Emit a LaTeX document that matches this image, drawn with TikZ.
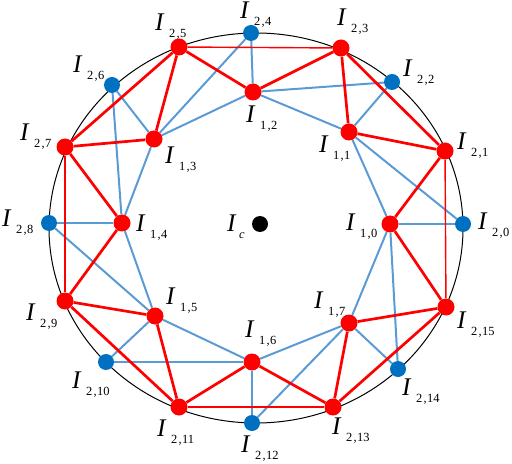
\documentclass[tikz,border=0pt]{standalone}
\usepackage{fontspec}
\setmainfont{Liberation Serif}
\usetikzlibrary{backgrounds}
\definecolor{myred}{RGB}{255,0,0}
\definecolor{myblue}{RGB}{0,112,192}
\definecolor{myline}{RGB}{91,155,213}
\newcommand\subfnt{\fontsize{12.5}{13}\selectfont}
\newcommand\Ilab[2]{\textit{I}\kern4.5bp\raisebox{-7bp}{\subfnt #1\kern1.2bp,\kern0.4bp#2}}
\tikzset{
  rnode/.style={circle, fill=myred, inner sep=0pt, minimum size=17bp},
  bnode/.style={circle, fill=myblue, inner sep=0pt, minimum size=16bp},
  knode/.style={circle, fill=black, inner sep=0pt, minimum size=16bp},
  redge/.style={draw=myred, line width=2.7bp},
  tredge/.style={draw=myred, line width=1.4bp},
  bedge/.style={draw=myline, line width=2bp},
  lab/.style={anchor=base west, inner sep=0pt, font=\fontsize{25.5}{26}\selectfont},
}
\begin{document}
\begin{tikzpicture}[x=1bp, y=-1bp]
\useasboundingbox (0,0) rectangle (512,464);
% outer nodes
\node[bnode] (o0) at (463,224) {};
\node[rnode] (o1) at (445,151) {};
\node[bnode] (o2) at (392,82) {};
\node[rnode] (o3) at (341,48) {};
\node[bnode] (o4) at (251,33) {};
\node[rnode] (o5) at (179,47) {};
\node[bnode] (o6) at (112,85) {};
\node[rnode] (o7) at (65,147) {};
\node[bnode] (o8) at (49,223) {};
\node[rnode] (o9) at (65,301) {};
\node[bnode] (o10) at (106,362) {};
\node[rnode] (o11) at (179,407) {};
\node[bnode] (o12) at (252,423) {};
\node[rnode] (o13) at (333,407) {};
\node[bnode] (o14) at (398,369) {};
\node[rnode] (o15) at (446,307) {};
% inner nodes
\node[rnode] (i0) at (390,224) {};
\node[rnode] (i1) at (349,132) {};
\node[rnode] (i2) at (253,92) {};
\node[rnode] (i3) at (154,139) {};
\node[rnode] (i4) at (122,223) {};
\node[rnode] (i5) at (155,316) {};
\node[rnode] (i6) at (252,362) {};
\node[rnode] (i7) at (349,323) {};
\node[knode] (c) at (260,224) {};
% labels
\node[lab] (lo0) at (478,230) {\Ilab{2}{0}};
\node[lab] (lo1) at (457,150) {\Ilab{2}{1}};
\node[lab] (lo2) at (403,77) {\Ilab{2}{2}};
\node[lab] (lo3) at (337,26) {\Ilab{2}{3}};
\node[lab] (lo4) at (240,19) {\Ilab{2}{4}};
\node[lab] (lo5) at (155,31) {\Ilab{2}{5}};
\node[lab] (lo6) at (73,73) {\Ilab{2}{6}};
\node[lab] (lo7) at (20,141) {\Ilab{2}{7}};
\node[lab] (lo8) at (2,227) {\Ilab{2}{8}};
\node[lab] (lo9) at (26,320) {\Ilab{2}{9}};
\node[lab] (lo10) at (72,388) {\Ilab{2}{10}};
\node[lab] (lo11) at (157,436) {\Ilab{2}{11}};
\node[lab] (lo12) at (241,452) {\Ilab{2}{12}};
\node[lab] (lo13) at (332,434) {\Ilab{2}{13}};
\node[lab] (lo14) at (402,395) {\Ilab{2}{14}};
\node[lab] (lo15) at (457,328) {\Ilab{2}{15}};
\node[lab] (li0) at (346,231) {\Ilab{1}{0}};
\node[lab] (li1) at (319,153) {\Ilab{1}{1}};
\node[lab] (li2) at (246,123) {\Ilab{1}{2}};
\node[lab] (li3) at (165,164) {\Ilab{1}{3}};
\node[lab] (li4) at (136,232) {\Ilab{1}{4}};
\node[lab] (li5) at (166,304) {\Ilab{1}{5}};
\node[lab] (li6) at (245,337) {\Ilab{1}{6}};
\node[lab] (li7) at (314,308) {\Ilab{1}{7}};
\node[lab] (lc) at (227,232) {\textit{I}\kern2.5bp\raisebox{-7bp}{\subfnt\textit{c}}};
\begin{scope}[on background layer]
  \draw[line width=1bp] (256,228) ellipse [x radius=207bp, y radius=195bp];
  \foreach \k in {0,...,7}{
    \pgfmathtruncatemacro{\kn}{mod(\k+1,8)}
    \pgfmathtruncatemacro{\ev}{2*\k}
    \draw[bedge] (i\k) -- (i\kn);
    \draw[bedge] (o\ev) -- (i\k);
    \draw[bedge] (o\ev) -- (i\kn);
  }
  \foreach \k in {0,...,7}{
    \pgfmathtruncatemacro{\om}{mod(2*\k+15,16)}
    \pgfmathtruncatemacro{\op}{2*\k+1}
    \draw[redge] (i\k) -- (o\om);
    \draw[redge] (i\k) -- (o\op);
  }
  \draw[redge] (o1) -- (o3);
  \draw[redge] (o5) -- (o7);
  \draw[redge] (o9) -- (o11);
  \draw[redge] (o13) -- (o15);
  \draw[tredge] (o3) -- (o5);
  \draw[tredge] (o7) -- (o9);
  \draw[tredge] (o11) -- (o13);
  \draw[tredge] (o15) -- (o1);
\end{scope}
\end{tikzpicture}
\end{document}
